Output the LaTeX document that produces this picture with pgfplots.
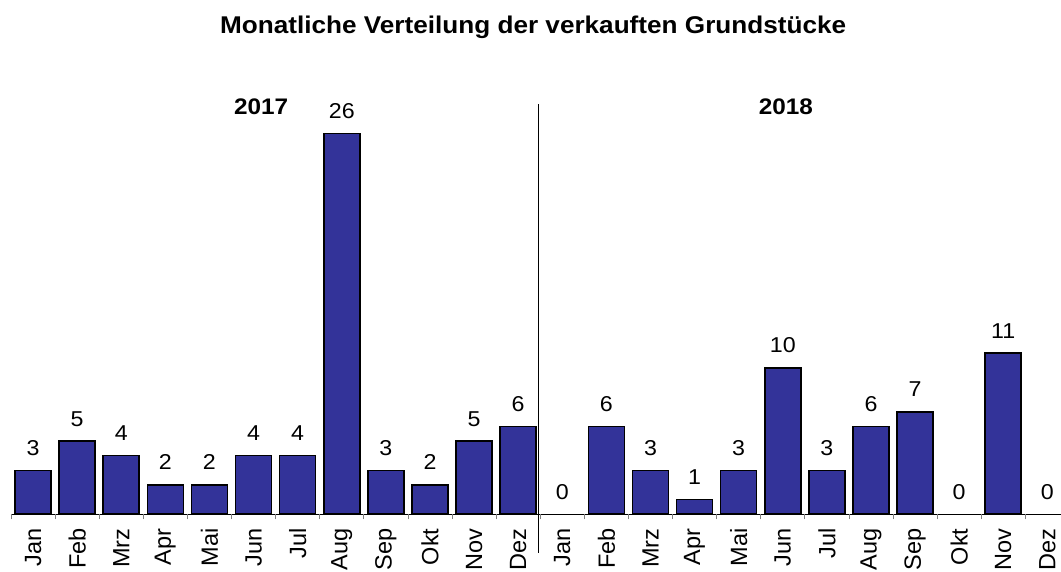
\documentclass[border=0pt]{standalone}
\usepackage{fontspec}
\setmainfont{Liberation Sans}
\newfontfamily\stretchfont[FakeStretch=1.08]{Liberation Sans}
\usepackage{pgfplots}
\pgfplotsset{compat=1.18}
\definecolor{barblue}{RGB}{51,51,153}

\begin{document}
\begin{tikzpicture}
\begin{axis}[
  at={(0,0)}, anchor=south west,
  scale only axis, width=1049.6bp, height=380.9bp,
  xmin=-0.5, xmax=23.3, ymin=0, ymax=26,
  enlargelimits=false, clip=false,
  ybar, bar width=36bp, bar shift=0pt,
  axis x line*=bottom, axis y line=none,
  axis line style={black, line width=1bp},
  tick align=outside,
  xtick={0,...,23},
  xticklabels={Jan,Feb,Mrz,Apr,Mai,Jun,Jul,Aug,Sep,Okt,Nov,Dez,Jan,Feb,Mrz,Apr,Mai,Jun,Jul,Aug,Sep,Okt,Nov,Dez},
  major tick length=0pt,
  extra x ticks={-0.5,0.5,...,22.5},
  extra x tick labels={},
  extra x tick style={major tick length=5bp, tick style={gray, line width=0.8bp}},
  xticklabel shift=14bp,
  xticklabel style={rotate=90, anchor=east, inner sep=0pt, font=\fontsize{23.5bp}{23.5bp}\selectfont},
  nodes near coords={\pgfmathprintnumber[assume math mode=true]{\pgfplotspointmeta}},
  every node near coord/.append style={font=\stretchfont\fontsize{21.5bp}{21.5bp}\selectfont, anchor=base, yshift=15bp, inner sep=0pt, text=black},
]
\addplot[fill=barblue, draw=black, line width=1.6bp] coordinates {
 (0,3) (1,5) (2,4) (3,2) (4,2) (5,4) (6,4) (7,26) (8,3) (9,2) (10,5) (11,6)
 (13,6) (14,3) (15,1) (16,3) (17,10) (18,3) (19,6) (20,7) (22,11)
};
\addplot[fill=none, draw=none] coordinates {(12,0) (21,0) (23,0)};
\node[anchor=base, font=\stretchfont\bfseries\fontsize{22.5bp}{22.5bp}\selectfont] at (axis cs:5.17,27.3) {2017};
\node[anchor=base, font=\stretchfont\bfseries\fontsize{22.5bp}{22.5bp}\selectfont] at (axis cs:17.07,27.3) {2018};
\node[anchor=base, font=\stretchfont\bfseries\fontsize{24.2bp}{24.2bp}\selectfont] at (axis cs:11.34,32.8) {Monatliche Verteilung der verkauften Grundstücke};
\draw[black, line width=1bp] (axis cs:11.46,28.0) -- (axis cs:11.46,-2.64);
\end{axis}
\pgfresetboundingbox
\path (-11bp,-57.7bp) rectangle (1050bp,514.3bp);
\end{tikzpicture}
\end{document}
